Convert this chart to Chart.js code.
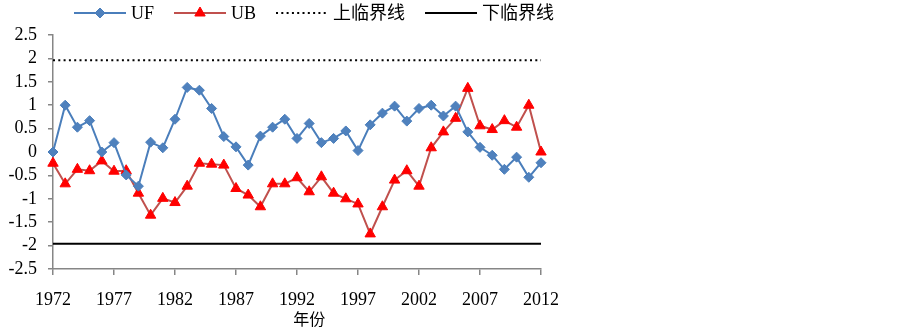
<!DOCTYPE html>
<html>
<head>
<meta charset="utf-8">
<script src="https://cdn.jsdelivr.net/npm/chart.js@4"></script>
<style>
html, body { margin: 0; padding: 0; background: #fff; }
#wrap { width: 900px; height: 333px; position: relative; }
</style>
</head>
<body>
<div id="wrap"><canvas id="chart"></canvas></div>
<script>
// years on the x axis
const years = [1972, 1973, 1974, 1975, 1976, 1977, 1978, 1979, 1980, 1981,
  1982, 1983, 1984, 1985, 1986, 1987, 1988, 1989, 1990, 1991,
  1992, 1993, 1994, 1995, 1996, 1997, 1998, 1999, 2000, 2001,
  2002, 2003, 2004, 2005, 2006, 2007, 2008, 2009, 2010, 2011, 2012];
const tickYears = [1972, 1977, 1982, 1987, 1992, 1997, 2002, 2007, 2012];

const ufValues = [0, 1.0, 0.53, 0.67, 0, 0.2, -0.49, -0.73, 0.21, 0.09,
  0.7, 1.38, 1.32, 0.93, 0.33, 0.11, -0.28, 0.34, 0.53, 0.7,
  0.29, 0.61, 0.2, 0.29, 0.45, 0.03, 0.58, 0.83, 0.98, 0.66,
  0.93, 1.0, 0.77, 0.98, 0.43, 0.1, -0.07, -0.37, -0.11, -0.54, -0.23];
const ubValues = [-0.24, -0.68, -0.37, -0.4, -0.19, -0.41, -0.4, -0.88, -1.35, -0.99,
  -1.08, -0.73, -0.24, -0.26, -0.28, -0.78, -0.92, -1.17, -0.68, -0.68,
  -0.55, -0.85, -0.53, -0.88, -1.0, -1.11, -1.75, -1.17, -0.6, -0.4,
  -0.73, 0.09, 0.43, 0.72, 1.36, 0.56, 0.48, 0.67, 0.53, 1.0, 0.0];

const upperCritical = 1.96;
const lowerCritical = -1.96;
const seriesLabels = ['UF', 'UB', '上临界线', '下临界线'];
const xTitle = '年份';

const toPoints = vals => vals.map((v, i) => ({ x: years[i], y: v }));
const firstYear = years[0], lastYear = years[years.length - 1];

// legend drawn across the top, line sample with marker in the middle
const topLegend = {
  id: 'topLegend',
  afterDraw(chart) {
    const ctx = chart.ctx;
    ctx.save();
    ctx.font = "18px 'Liberation Serif', 'Noto Sans CJK SC'";
    ctx.textBaseline = 'middle';
    let x = 74;
    const y = 13;
    chart.data.datasets.forEach(ds => {
      ctx.strokeStyle = ds.borderColor;
      ctx.lineWidth = ds.borderWidth;
      ctx.setLineDash(ds.borderDash || []);
      ctx.beginPath();
      ctx.moveTo(x, y);
      ctx.lineTo(x + 52, y);
      ctx.stroke();
      ctx.setLineDash([]);
      if (ds.pointRadius > 0) {
        ctx.fillStyle = ds.pointBackgroundColor;
        ctx.strokeStyle = ds.pointBorderColor;
        ctx.lineWidth = 1;
        Chart.helpers.drawPoint(ctx, {
          pointStyle: ds.pointStyle, radius: ds.pointRadius, borderWidth: 1, rotation: 0
        }, x + 26, y);
      }
      x += 57;
      ctx.fillStyle = '#000';
      ctx.fillText(ds.label, x, y + 1);
      x += ctx.measureText(ds.label).width + 20;
    });
    // axis title under 1992-1993
    const xs = chart.scales.x;
    ctx.font = "16px 'Noto Sans CJK SC'";
    ctx.textAlign = 'center';
    ctx.fillText(xTitle, xs.getPixelForValue(1993), 319);
    ctx.restore();
  }
};

new Chart(document.getElementById('chart'), {
  type: 'line',
  data: {
    datasets: [
      {
        label: seriesLabels[0],
        data: toPoints(ufValues),
        borderColor: '#4A7EBB',
        borderWidth: 2,
        pointStyle: 'rectRot',
        pointRadius: 5,
        pointBackgroundColor: '#4F81BD',
        pointBorderColor: '#4A7EBB',
        pointBorderWidth: 1,
        tension: 0,
        clip: false
      },
      {
        label: seriesLabels[1],
        data: toPoints(ubValues),
        borderColor: '#C0504D',
        borderWidth: 2,
        pointStyle: 'triangle',
        pointRadius: 6,
        pointBackgroundColor: '#FF0000',
        pointBorderColor: '#FF0000',
        pointBorderWidth: 1,
        tension: 0,
        clip: false
      },
      {
        label: seriesLabels[2],
        data: [{ x: firstYear, y: upperCritical }, { x: lastYear, y: upperCritical }],
        borderColor: '#000',
        borderWidth: 2,
        borderDash: [2, 3.3],
        pointRadius: 0,
        clip: false
      },
      {
        label: seriesLabels[3],
        data: [{ x: firstYear, y: lowerCritical }, { x: lastYear, y: lowerCritical }],
        borderColor: '#000',
        borderWidth: 2,
        pointRadius: 0,
        clip: false
      }
    ]
  },
  options: {
    responsive: true,
    maintainAspectRatio: false,
    animation: false,
    layout: { padding: { top: 35, right: 359, left: 0, bottom: 0 } },
    plugins: { legend: { display: false }, tooltip: { enabled: false } },
    scales: {
      x: {
        type: 'linear',
        min: firstYear,
        max: lastYear,
        afterBuildTicks: scale => { scale.ticks = tickYears.map(v => ({ value: v })); },
        afterFit: scale => { scale.height = 64; },
        grid: { drawOnChartArea: false, drawTicks: true, tickLength: 6, color: '#868686', lineWidth: 1.5 },
        border: { color: '#868686', width: 1.5 },
        ticks: {
          color: '#000',
          padding: 14,
          maxRotation: 0,
          autoSkip: false,
          font: { family: "'Liberation Serif'", size: 18 },
          callback: v => String(v)
        }
      },
      y: {
        min: -2.5,
        max: 2.5,
        afterFit: scale => { scale.width = 53; },
        grid: { drawOnChartArea: false, drawTicks: true, tickLength: 5, color: '#868686', lineWidth: 1.5 },
        border: { color: '#868686', width: 1.5 },
        ticks: {
          stepSize: 0.5,
          autoSkip: false,
          color: '#000',
          padding: 11,
          font: { family: "'Liberation Serif'", size: 18 },
          callback: v => String(Math.round(v * 10) / 10)
        }
      }
    }
  },
  plugins: [topLegend]
});
</script>
</body>
</html>
